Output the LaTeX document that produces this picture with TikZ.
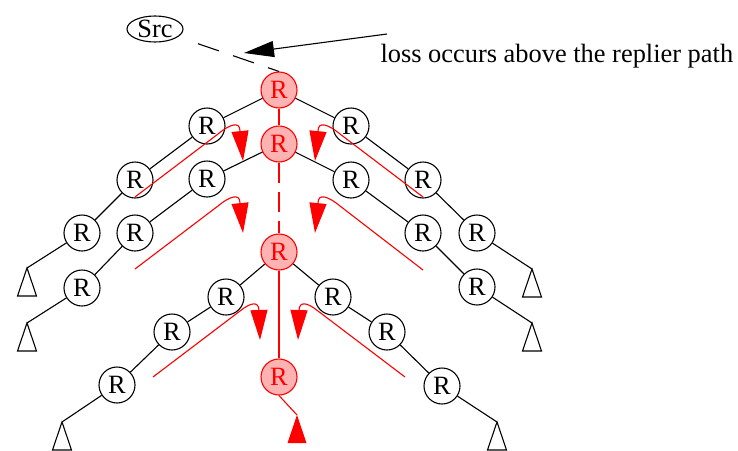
\documentclass[tikz,border=0pt]{standalone}
\usepackage{fontspec}
\setmainfont{Liberation Serif}
\usetikzlibrary{arrows.meta, shapes.geometric}

\begin{document}
\begin{tikzpicture}[x=1pt, y=-1pt, font=\fontsize{26.4}{30}\selectfont, line width=1.1pt,
  rnode/.style={circle, draw, minimum size=36pt, inner sep=0pt},
  rpath/.style={rnode, draw=red, fill=red!30, text=red},
  reply/.style={red, -{Triangle[length=30pt, width=17pt]}},]
\useasboundingbox (0,0) rectangle (738,450);
%Nodes
\node[ellipse, draw, minimum width=56pt, minimum height=26pt, inner sep=0pt] (src) at (155,29) {Src};
\node[anchor=base west, inner sep=0pt] (loss) at (380,62) {loss occurs above the replier path};
\coordinate (tail) at (387,34);
\coordinate (lossPt) at (244,53);

\node[rpath] (r1) at (279,90) {R};
\node[rpath] (r2) at (279,144) {R};
\node[rpath] (r3) at (279,252) {R};
\node[rpath] (r4) at (279,377) {R};

\node[rnode] (a1) at (207,126) {R};
\node[rnode] (a2) at (135,180) {R};
\node[rnode] (a3) at (82,233) {R};
\node[rnode] (b1) at (351,126) {R};
\node[rnode] (b2) at (423,180) {R};
\node[rnode] (b3) at (477,233) {R};
\node[rnode] (c1) at (207,179) {R};
\node[rnode] (c2) at (135,233) {R};
\node[rnode] (c3) at (82,288) {R};
\node[rnode] (d1) at (351,180) {R};
\node[rnode] (d2) at (423,233) {R};
\node[rnode] (d3) at (477,287) {R};
\node[rnode] (e1) at (226,297) {R};
\node[rnode] (e2) at (172,332) {R};
\node[rnode] (e3) at (117,385) {R};
\node[rnode] (f1) at (333,297) {R};
\node[rnode] (f2) at (387,332) {R};
\node[rnode] (f3) at (442,386) {R};

\coordinate (ta) at (27,268);
\coordinate (tb) at (532,269);
\coordinate (tc) at (27,323);
\coordinate (td) at (532,323);
\coordinate (te) at (62,422);
\coordinate (tf) at (497,422);
\coordinate (tr) at (297,415);

%Lines
\draw (r1) -- (a1) -- (a2) -- (a3) -- (ta);
\draw (r1) -- (b1) -- (b2) -- (b3) -- (tb);
\draw (r2) -- (c1) -- (c2) -- (c3) -- (tc);
\draw (r2) -- (d1) -- (d2) -- (d3) -- (td);
\draw (r3) -- (e1) -- (e2) -- (e3) -- (te);
\draw (r3) -- (f1) -- (f2) -- (f3) -- (tf);
\foreach \t in {ta,tb,tc,td,te,tf}
  \draw (\t) -- ++(-9.5,28) -- ++(19,0) -- cycle;
\fill[red] (tr) -- ++(-9.5,28) -- ++(19,0) -- cycle;

\draw[red] (r1) -- (r2);
\draw[red, dash pattern=on 20pt off 9pt] (r2) -- (r3);
\draw[red] (r3) -- (r4);
\draw[red] (r4.south) -- (tr);

\draw[dash pattern=on 22pt off 15pt, dash phase=22pt, shorten <=6pt] (src) -- (r1.north);
\draw[-{Triangle[length=30pt, width=16pt]}] (tail) -- (lossPt);

%Replier paths
\draw[reply] (135,197) -- (218,134) .. controls (230,124) and (240,121) .. (240,131) -- (243,161);
\draw[reply] (135,269) -- (218,206) .. controls (230,196) and (240,193) .. (240,203) -- (243,233);
\draw[reply] (423,197) -- (340,134) .. controls (328,124) and (318,121) .. (318,131) -- (315,161);
\draw[reply] (423,270) -- (340,206) .. controls (328,196) and (318,193) .. (318,203) -- (315,233);
\draw[reply] (153,377) -- (240,311) .. controls (250,303) and (259,300) .. (259,311) -- (260,340);
\draw[reply] (405,377) -- (318,311) .. controls (308,303) and (299,300) .. (299,311) -- (298,340);

\end{tikzpicture}
\end{document}
